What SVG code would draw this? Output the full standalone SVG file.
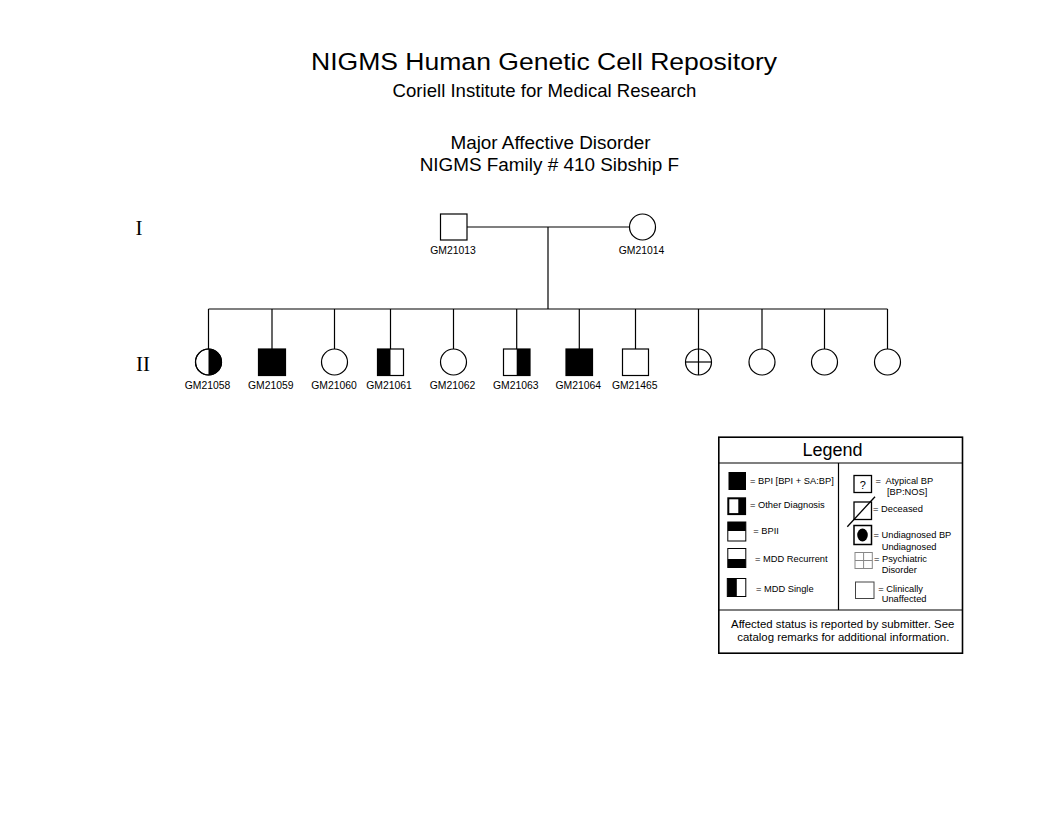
<svg xmlns="http://www.w3.org/2000/svg" width="1056" height="816" viewBox="0 0 1056 816">
<style>
text{font-family:"Liberation Sans",Arial,sans-serif;fill:#000}
.gen{font-family:"Liberation Serif","Times New Roman",serif;font-size:21px}
.lab{font-size:10.4px;text-anchor:middle}
.sym{fill:#fff;stroke:#000;stroke-width:1.2}
.blk{fill:#000;stroke:none}
.ln{stroke:#000;stroke-width:1.2;fill:none}
.lg{font-size:9.3px}
.lb{fill:#fff;stroke:#000;stroke-width:1.6}
</style>
<rect x="0" y="0" width="1056" height="816" fill="#fff"/>
<g id="titles">
<text x="311" y="70" font-size="24.5" textLength="466" lengthAdjust="spacingAndGlyphs">NIGMS Human Genetic Cell Repository</text>
<text x="544.5" y="96.5" font-size="18.6" text-anchor="middle">Coriell Institute for Medical Research</text>
<text x="550.5" y="149.3" font-size="18.9" text-anchor="middle">Major Affective Disorder</text>
<text x="549.3" y="171" font-size="18.9" text-anchor="middle">NIGMS Family # 410 Sibship F</text>
<text class="gen" x="135.5" y="235">I</text>
<text class="gen" x="136" y="370.5">II</text>
</g>
<g id="connectors">
<line class="ln" x1="467" y1="227" x2="629.5" y2="227"/>
<line class="ln" x1="548" y1="227" x2="548" y2="309"/>
<line class="ln" x1="208.5" y1="309" x2="887.5" y2="309"/>
<line class="ln" x1="208.5" y1="309" x2="208.5" y2="349"/>
<line class="ln" x1="272" y1="309" x2="272" y2="349"/>
<line class="ln" x1="334.5" y1="309" x2="334.5" y2="349"/>
<line class="ln" x1="390.5" y1="309" x2="390.5" y2="349"/>
<line class="ln" x1="453.5" y1="309" x2="453.5" y2="349"/>
<line class="ln" x1="516.7" y1="309" x2="516.7" y2="349"/>
<line class="ln" x1="579.3" y1="309" x2="579.3" y2="349"/>
<line class="ln" x1="635.5" y1="309" x2="635.5" y2="349"/>
<line class="ln" x1="698.5" y1="309" x2="698.5" y2="349"/>
<line class="ln" x1="762" y1="309" x2="762" y2="349"/>
<line class="ln" x1="824.5" y1="309" x2="824.5" y2="349"/>
<line class="ln" x1="887.5" y1="309" x2="887.5" y2="349"/>
</g>
<g id="GM21013">
<rect class="sym" x="440.5" y="214" width="26.5" height="26"/>
<text class="lab" x="453" y="254.3">GM21013</text>
</g>
<g id="GM21014">
<circle class="sym" cx="642.5" cy="227" r="13"/>
<text class="lab" x="641.5" y="254.3">GM21014</text>
</g>
<g id="GM21058">
<circle class="sym" cx="208.5" cy="362" r="13"/>
<path class="blk" d="M208.5,349 A13,13 0 0 1 208.5,375 Z"/>
<circle cx="208.5" cy="362" r="13" fill="none" stroke="#000" stroke-width="1.2"/>
<text class="lab" x="207.5" y="389.3">GM21058</text>
</g>
<g id="GM21059">
<rect x="258.5" y="349" width="27" height="26.5" fill="#000" stroke="#000" stroke-width="1.2"/>
<text class="lab" x="270.8" y="389.3">GM21059</text>
</g>
<g id="GM21060">
<circle class="sym" cx="334.5" cy="362" r="13"/>
<text class="lab" x="334" y="389.3">GM21060</text>
</g>
<g id="GM21061">
<rect class="sym" x="377.5" y="349" width="26" height="26.5"/>
<rect class="blk" x="377.5" y="349" width="13" height="26.5"/>
<text class="lab" x="389" y="389.3">GM21061</text>
</g>
<g id="GM21062">
<circle class="sym" cx="453.5" cy="362" r="13"/>
<text class="lab" x="452.5" y="389.3">GM21062</text>
</g>
<g id="GM21063">
<rect class="sym" x="503.5" y="349" width="26.5" height="26.5"/>
<rect class="blk" x="516.7" y="349" width="13.3" height="26.5"/>
<text class="lab" x="515.8" y="389.3">GM21063</text>
</g>
<g id="GM21064">
<rect x="566" y="349" width="26.5" height="26.5" fill="#000" stroke="#000" stroke-width="1.2"/>
<text class="lab" x="578.3" y="389.3">GM21064</text>
</g>
<g id="GM21465">
<rect class="sym" x="622.5" y="349" width="26" height="26.5"/>
<text class="lab" x="634.7" y="389.3">GM21465</text>
</g>
<g id="II-9">
<circle class="sym" cx="698.5" cy="362" r="13"/>
<line class="ln" x1="685.5" y1="362" x2="711.5" y2="362"/>
<line class="ln" x1="698.5" y1="349" x2="698.5" y2="375"/>
</g>
<g id="II-10">
<circle class="sym" cx="762" cy="362" r="13"/>
</g>
<g id="II-11">
<circle class="sym" cx="824.5" cy="362" r="13"/>
</g>
<g id="II-12">
<circle class="sym" cx="887.5" cy="362" r="13"/>
</g>
<g id="legend">
<rect class="lb" x="718.8" y="437.2" width="243.7" height="216"/>
<line class="ln" stroke-width="1.6" x1="718.8" y1="463" x2="962.5" y2="463"/>
<line class="ln" stroke-width="1.6" x1="838.5" y1="463" x2="838.5" y2="610"/>
<line class="ln" stroke-width="1.6" x1="718.8" y1="610" x2="962.5" y2="610"/>
<text x="832.5" y="455.7" font-size="18" text-anchor="middle">Legend</text>
<rect x="728.5" y="472" width="17.5" height="18" fill="#000"/>
<text class="lg" x="750" y="483.5">= BPI [BPI + SA:BP]</text>
<rect x="728.3" y="498.3" width="16.8" height="15.8" fill="#fff" stroke="#000" stroke-width="2"/>
<rect x="738.3" y="498.3" width="6.8" height="15.8" fill="#000"/>
<text class="lg" x="750" y="508.3">= Other Diagnosis</text>
<rect x="727.8" y="522" width="18" height="19" fill="#fff" stroke="#000" stroke-width="1"/>
<rect x="727.8" y="522" width="18" height="9" fill="#000"/>
<text class="lg" x="753.3" y="533.5">= BPII</text>
<rect x="727.8" y="548.5" width="18" height="19" fill="#fff" stroke="#000" stroke-width="1"/>
<rect x="727.8" y="559" width="18" height="8.5" fill="#000"/>
<text class="lg" x="755" y="561.5">= MDD Recurrent</text>
<rect x="727.3" y="578.5" width="18.5" height="18" fill="#fff" stroke="#000" stroke-width="1"/>
<rect x="727.3" y="578.5" width="9.5" height="18" fill="#000"/>
<text class="lg" x="756" y="591.8">= MDD Single</text>
<rect x="854" y="475.5" width="17.5" height="17" fill="#fff" stroke="#000" stroke-width="1.3"/>
<text x="862.7" y="489" font-size="11" text-anchor="middle">?</text>
<text class="lg" x="875.5" y="483.5" xml:space="preserve">=  Atypical BP</text>
<text class="lg" x="887" y="495.3">[BP:NOS]</text>
<rect x="854" y="502" width="17.5" height="17.5" fill="#fff" stroke="#000" stroke-width="1.3"/>
<line x1="847.3" y1="526.7" x2="875" y2="496.7" stroke="#000" stroke-width="1.3"/>
<text class="lg" x="873" y="512">= Deceased</text>
<rect x="854" y="525.5" width="17.5" height="19" fill="#fff" stroke="#000" stroke-width="1.5"/>
<ellipse cx="862.5" cy="535" rx="5.3" ry="6.5" fill="#000"/>
<text class="lg" x="873.5" y="537.8">= Undiagnosed BP</text>
<rect x="855" y="552.5" width="17.3" height="16" fill="#fff" stroke="#888" stroke-width="1"/>
<line x1="855" y1="560.5" x2="872.3" y2="560.5" stroke="#888" stroke-width="1"/>
<line x1="863.6" y1="552.5" x2="863.6" y2="568.5" stroke="#888" stroke-width="1"/>
<text class="lg" x="881.7" y="550">Undiagnosed</text>
<text class="lg" x="874" y="561.8">= Psychiatric</text>
<text class="lg" x="881.7" y="573.4">Disorder</text>
<rect x="855.5" y="582" width="18.5" height="16.5" fill="#fff" stroke="#444" stroke-width="1"/>
<text class="lg" x="878.3" y="591.8">= Clinically</text>
<text class="lg" x="881.7" y="602.4">Unaffected</text>
<text x="842.7" y="627.7" font-size="11.4" text-anchor="middle">Affected status is reported by submitter. See</text>
<text x="843.3" y="641" font-size="11.4" text-anchor="middle">catalog remarks for additional information.</text>
</g>
</svg>
